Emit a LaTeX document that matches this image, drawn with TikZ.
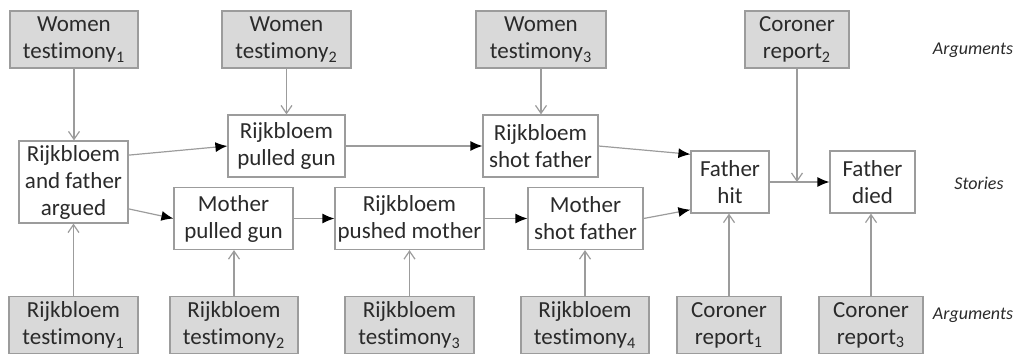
\documentclass[tikz,border=0pt]{standalone}
\usepackage{fontspec}
\setmainfont{Carlito}[Ligatures=NoCommon]
\usetikzlibrary{%
  arrows.meta,% wg. Latex / Straight Barb
  positioning%
}
\definecolor{linegray}{HTML}{9C9C9C}
\definecolor{boxgray}{HTML}{D9D9D9}
\definecolor{textgray}{HTML}{2A2A2A}

\begin{document}
\begin{tikzpicture}[
    x=0.5pt,y=-0.5pt,
    >={Latex[length=6pt,width=5pt,color=black]},
    line width=0.6pt,
    every node/.style={font=\fontsize{11.5}{13.5}\selectfont,text=textgray,
        align=center,inner sep=0pt},
    argument/.style={rectangle,draw=linegray,fill=boxgray,minimum height=28.5pt},
    story/.style={rectangle,draw=linegray,fill=white,minimum height=31pt},
    support/.style={->,draw=linegray},
    evidence/.style={-{Straight Barb[length=4pt,width=5.5pt]},draw=linegray},
    level/.style={font=\fontsize{9}{10}\selectfont\itshape,text=textgray}
  ]
    \useasboundingbox (0,0) rectangle (1016,354);

    % arguments (top)
    \node[argument,minimum width=64pt]   (wt1) at (74,39.5)  {Women\\testimony\textsubscript{1}};
    \node[argument,minimum width=64.5pt] (wt2) at (286.5,39.5) {Women\\testimony\textsubscript{2}};
    \node[argument,minimum width=65pt]   (wt3) at (541,39.5) {Women\\testimony\textsubscript{3}};
    \node[argument,minimum width=52pt]   (cr2) at (797,39.5) {Coroner\\report\textsubscript{2}};

    % stories
    \node[story,minimum width=54.5pt,minimum height=41pt] (argued) at (73.5,182) {Rijkbloem\\and father\\argued};
    \node[story,minimum width=58.5pt] (rpulled) at (286.5,146) {Rijkbloem\\pulled gun};
    \node[story,minimum width=57.5pt] (rshot)   at (540.5,146) {Rijkbloem\\shot father};
    \node[story,minimum width=59.5pt] (mpulled) at (233.5,218.5) {Mother\\pulled gun};
    \node[story,minimum width=74.5pt] (pushed)  at (409.5,218.5) {Rijkbloem\\pushed mother};
    \node[story,minimum width=57.5pt] (mshot)   at (585.5,218.5) {Mother\\shot father};
    \node[story,minimum width=39pt]   (hit)     at (730,182) {Father\\hit};
    \node[story,minimum width=42.5pt] (died)    at (872.5,182) {Father\\died};

    % arguments (bottom)
    \node[argument,minimum width=64.5pt] (rt1) at (73.5,325) {Rijkbloem\\testimony\textsubscript{1}};
    \node[argument,minimum width=64pt]   (rt2) at (234,325)  {Rijkbloem\\testimony\textsubscript{2}};
    \node[argument,minimum width=64.5pt] (rt3) at (409.5,325) {Rijkbloem\\testimony\textsubscript{3}};
    \node[argument,minimum width=64pt]   (rt4) at (585,325)  {Rijkbloem\\testimony\textsubscript{4}};
    \node[argument,minimum width=52pt]   (cr1) at (729,325)  {Coroner\\report\textsubscript{1}};
    \node[argument,minimum width=52pt]   (cr3) at (871,325)  {Coroner\\report\textsubscript{3}};

    % levels
    \node[level] (argtop) at (973,50)  {Arguments};
    \node[level] (stories) at (979,183) {Stories};
    \node[level] (argbot) at (973,315) {Arguments};

    % story links
    \draw[support] (argued.26)  -- (rpulled.west);
    \draw[support] (argued.-26) -- (mpulled.west);
    \draw[support] (rpulled) -- (rshot);
    \draw[support] (mpulled) -- (pushed);
    \draw[support] (pushed) -- (mshot);
    \draw[support] (rshot.east) -- (hit.145);
    \draw[support] (mshot.east) -- (hit.-145);
    \draw[support] (hit) -- (died);

    % evidence links
    \coordinate (meet) at (cr2 |- hit);
    \draw[evidence] (wt1) -- (wt1 |- argued.north);
    \draw[evidence] (wt2) -- (wt2 |- rpulled.north);
    \draw[evidence] (wt3) -- (wt3 |- rshot.north);
    \draw[evidence] (cr2) -- (meet);
    \draw[evidence] (rt1) -- (rt1 |- argued.south);
    \draw[evidence] (rt2) -- (rt2 |- mpulled.south);
    \draw[evidence] (rt3) -- (rt3 |- pushed.south);
    \draw[evidence] (rt4) -- (rt4 |- mshot.south);
    \draw[evidence] (cr1) -- (cr1 |- hit.south);
    \draw[evidence] (cr3) -- (cr3 |- died.south);
\end{tikzpicture}
\end{document}
